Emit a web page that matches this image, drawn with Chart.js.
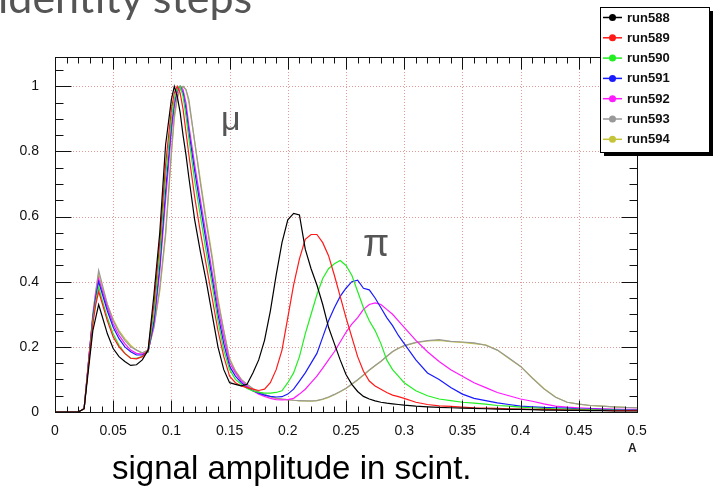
<!DOCTYPE html>
<html lang="en">
<head>
<meta charset="UTF-8" />
<title>identity steps</title>
<script src="https://cdn.jsdelivr.net/npm/chart.js"></script>
<style>
  html, body { margin: 0; padding: 0; background: #fff; overflow: hidden; }
  .wrap { position: relative; width: 723px; height: 495px; }
  .wrap canvas { position: absolute; left: 0; top: 0; }
  .note { position: absolute; line-height: 1; white-space: nowrap; font-family: "Liberation Sans", Arial, sans-serif; }
  #title { left: -2px; top: -25px; font-family: Lato, "Open Sans", sans-serif; font-size: 43px; color: #555; }
  #mu { left: 221px; top: 101px; font-size: 34px; color: #555; }
  #pi { left: 363px; top: 224px; font-size: 38px; color: #555; }
  #axA { left: 628px; top: 442px; font-size: 12px; font-weight: bold; color: #222; }
  #xlabel { left: 112px; top: 451px; font-size: 33px; color: #000; }
</style>
</head>
<body>
<div class="wrap">
  <canvas id="chartRuns" width="723" height="495"></canvas>
  <div class="note" id="title">identity steps</div>
  <div class="note" id="mu">μ</div>
  <div class="note" id="pi">π</div>
  <div class="note" id="axA">A</div>
  <div class="note" id="xlabel">signal amplitude in scint.</div>
</div>

<script>
  // amplitude bins (x) shared by every run
  var amp = [0, 0.01, 0.02, 0.025, 0.03, 0.0325, 0.035, 0.0375,
    0.04, 0.045, 0.05, 0.055, 0.06, 0.065, 0.07, 0.075, 0.08,
    0.085, 0.09, 0.095, 0.1,
    0.1025, 0.105, 0.1075, 0.11, 0.1125, 0.115,
    0.12, 0.125, 0.13, 0.135, 0.14, 0.145,
    0.15, 0.155, 0.16, 0.165, 0.17, 0.175, 0.18, 0.185, 0.19, 0.195, 0.2,
    0.205, 0.21, 0.215, 0.22, 0.225, 0.23, 0.235, 0.24, 0.245, 0.25,
    0.255, 0.26, 0.265, 0.27, 0.275, 0.28, 0.285, 0.29, 0.295, 0.3,
    0.31, 0.32, 0.33, 0.34, 0.35, 0.36, 0.37, 0.38, 0.39, 0.4,
    0.41, 0.42, 0.43, 0.44, 0.45, 0.46, 0.47, 0.48, 0.49, 0.5];

  // normalised counts per run
  var run588 = [0, 0, 0, 0.01, 0.17, 0.25, 0.29, 0.33,
    0.30, 0.24, 0.195, 0.17, 0.155, 0.143, 0.145, 0.16, 0.19,
    0.36, 0.55, 0.82, 0.96,
    1.0, 0.97, 0.92, 0.85, 0.79, 0.72,
    0.59, 0.49, 0.40, 0.30, 0.20, 0.13,
    0.09, 0.085, 0.08, 0.085, 0.12, 0.16, 0.22, 0.31, 0.42, 0.52, 0.59,
    0.61, 0.605, 0.50, 0.44, 0.39, 0.33, 0.26, 0.21, 0.16, 0.115,
    0.085, 0.063, 0.048, 0.04, 0.034, 0.03, 0.027, 0.025, 0.023, 0.021,
    0.018, 0.016, 0.014, 0.013, 0.012, 0.011, 0.01, 0.009, 0.008, 0.008,
    0.007, 0.006, 0.006, 0.005, 0.005, 0.004, 0.004, 0.003, 0.003, 0.003];
  var run589 = [0, 0, 0, 0.01, 0.19, 0.27, 0.33, 0.37,
    0.34, 0.28, 0.23, 0.20, 0.18, 0.165, 0.163, 0.17, 0.19,
    0.33, 0.52, 0.76, 0.93,
    0.98, 1.0, 0.98, 0.93, 0.86, 0.79,
    0.66, 0.55, 0.45, 0.35, 0.25, 0.17,
    0.11, 0.09, 0.08, 0.075, 0.07, 0.066, 0.07, 0.09, 0.13, 0.19, 0.29,
    0.39, 0.47, 0.53, 0.545, 0.545, 0.52, 0.48, 0.42, 0.355, 0.29,
    0.23, 0.17, 0.125, 0.095, 0.08, 0.07, 0.06, 0.052, 0.047, 0.042,
    0.03, 0.023, 0.019, 0.017, 0.015, 0.013, 0.012, 0.011, 0.01, 0.009,
    0.008, 0.008, 0.007, 0.006, 0.006, 0.005, 0.005, 0.004, 0.004, 0.004];
  var run590 = [0, 0, 0, 0.01, 0.19, 0.28, 0.34, 0.385,
    0.35, 0.29, 0.24, 0.205, 0.18, 0.165, 0.165, 0.17, 0.185,
    0.30, 0.48, 0.72, 0.90,
    0.96, 0.99, 1.0, 0.97, 0.91, 0.84,
    0.71, 0.60, 0.49, 0.39, 0.28, 0.19,
    0.13, 0.10, 0.085, 0.072, 0.065, 0.06, 0.058, 0.058, 0.06, 0.065, 0.09,
    0.12, 0.17, 0.24, 0.30, 0.36, 0.41, 0.44, 0.455, 0.465, 0.45,
    0.42, 0.37, 0.32, 0.28, 0.25, 0.21, 0.16, 0.13, 0.11, 0.09,
    0.065, 0.05, 0.04, 0.035, 0.03, 0.027, 0.024, 0.02, 0.018, 0.015,
    0.013, 0.011, 0.01, 0.009, 0.008, 0.007, 0.006, 0.006, 0.005, 0.005];
  var run591 = [0, 0, 0, 0.01, 0.2, 0.29, 0.35, 0.40,
    0.37, 0.31, 0.26, 0.225, 0.20, 0.185, 0.175, 0.175, 0.185,
    0.28, 0.45, 0.68, 0.88,
    0.95, 0.99, 1.0, 0.98, 0.93, 0.86,
    0.74, 0.63, 0.52, 0.41, 0.30, 0.21,
    0.14, 0.11, 0.09, 0.075, 0.065, 0.058, 0.052, 0.048, 0.046, 0.047, 0.055,
    0.07, 0.095, 0.12, 0.15, 0.18, 0.23, 0.28, 0.32, 0.355, 0.38,
    0.40, 0.405, 0.38, 0.375, 0.35, 0.32, 0.29, 0.265, 0.235, 0.21,
    0.16, 0.12, 0.10, 0.075, 0.055, 0.042, 0.035, 0.028, 0.023, 0.018,
    0.016, 0.014, 0.013, 0.012, 0.01, 0.009, 0.008, 0.007, 0.006, 0.006];
  var run592 = [0, 0, 0, 0.01, 0.2, 0.29, 0.36, 0.41,
    0.38, 0.32, 0.27, 0.235, 0.21, 0.19, 0.18, 0.178, 0.185,
    0.27, 0.43, 0.65, 0.86,
    0.94, 0.98, 1.0, 0.99, 0.95, 0.88,
    0.76, 0.65, 0.54, 0.43, 0.32, 0.23,
    0.15, 0.12, 0.095, 0.08, 0.065, 0.055, 0.048, 0.042, 0.038, 0.037, 0.038,
    0.042, 0.055, 0.07, 0.09, 0.11, 0.135, 0.16, 0.185, 0.215, 0.245,
    0.27, 0.29, 0.315, 0.33, 0.335, 0.33, 0.315, 0.30, 0.28, 0.26,
    0.22, 0.185, 0.155, 0.13, 0.11, 0.09, 0.075, 0.06, 0.05, 0.04,
    0.033, 0.025, 0.018, 0.015, 0.013, 0.011, 0.01, 0.009, 0.008, 0.008];
  var run593 = [0, 0, 0, 0.01, 0.2, 0.30, 0.37, 0.435,
    0.40, 0.33, 0.28, 0.245, 0.22, 0.20, 0.19, 0.182, 0.19,
    0.26, 0.38, 0.55, 0.80,
    0.91, 0.97, 0.99, 1.0, 0.99, 0.96,
    0.83, 0.70, 0.58, 0.47, 0.34, 0.25,
    0.16, 0.125, 0.10, 0.085, 0.072, 0.062, 0.054, 0.047, 0.043, 0.04, 0.038,
    0.036, 0.035, 0.034, 0.034, 0.035, 0.04, 0.046, 0.054, 0.063, 0.073,
    0.086, 0.099, 0.114, 0.129, 0.143, 0.156, 0.171, 0.186, 0.196, 0.204,
    0.214, 0.219, 0.222, 0.217, 0.215, 0.212, 0.205, 0.19, 0.166, 0.14,
    0.104, 0.071, 0.045, 0.03, 0.024, 0.02, 0.018, 0.016, 0.014, 0.013];
  var run594 = [0, 0, 0, 0.01, 0.19, 0.30, 0.37, 0.425,
    0.39, 0.33, 0.285, 0.25, 0.225, 0.205, 0.19, 0.18, 0.19,
    0.26, 0.37, 0.54, 0.79,
    0.90, 0.96, 0.99, 1.0, 0.99, 0.95,
    0.83, 0.71, 0.59, 0.48, 0.35, 0.25,
    0.165, 0.127, 0.10, 0.083, 0.071, 0.061, 0.053, 0.046, 0.042, 0.04, 0.037,
    0.036, 0.034, 0.034, 0.033, 0.035, 0.039, 0.045, 0.053, 0.062, 0.072,
    0.085, 0.098, 0.113, 0.128, 0.142, 0.155, 0.17, 0.185, 0.195, 0.203,
    0.213, 0.218, 0.22, 0.216, 0.214, 0.21, 0.206, 0.19, 0.164, 0.14,
    0.105, 0.072, 0.046, 0.03, 0.024, 0.02, 0.018, 0.016, 0.014, 0.013];

  var runNames = ['run588', 'run589', 'run590', 'run591', 'run592', 'run593', 'run594'];
  var xTicks = [0, 0.05, 0.1, 0.15, 0.2, 0.25, 0.3, 0.35, 0.4, 0.45, 0.5];
  var yTicks = [0, 0.2, 0.4, 0.6, 0.8, 1];

  var runs = [run588, run589, run590, run591, run592, run593, run594];
  var runColors = ['#000000', '#ff1a1a', '#22ee22', '#1a1aff', '#ff1aff', '#999999', '#c4c43a'];
  var LABEL_FONT = { family: 'Liberation Sans, Arial, sans-serif', size: 14 };

  var datasets = runs.map(function (r, i) {
    return {
      label: runNames[i],
      data: amp.map(function (a, k) { return { x: a, y: r[k] }; }),
      borderColor: runColors[i],
      backgroundColor: runColors[i],
      borderWidth: 1.2,
      pointRadius: 0,
      showLine: true,
      fill: false,
      tension: 0
    };
  });

  // ROOT-like frame: dotted grid, box, ticks on all four sides, shadowed legend
  var rootStyle = {
    id: 'rootStyle',
    beforeDatasetsDraw: function (chart) {
      var ctx = chart.ctx, a = chart.chartArea;
      var sx = chart.scales.x, sy = chart.scales.y;
      ctx.save();
      ctx.strokeStyle = '#e39a9a';
      ctx.lineWidth = 1;
      ctx.setLineDash([1, 2]);
      xTicks.forEach(function (v) {
        if (v <= 0 || v >= 0.5) return;
        var px = Math.round(sx.getPixelForValue(v)) + 0.5;
        ctx.beginPath(); ctx.moveTo(px, a.top); ctx.lineTo(px, a.bottom); ctx.stroke();
      });
      yTicks.forEach(function (v) {
        if (v <= 0) return;
        var py = Math.round(sy.getPixelForValue(v)) + 0.5;
        ctx.beginPath(); ctx.moveTo(a.left, py); ctx.lineTo(a.right, py); ctx.stroke();
      });
      ctx.restore();
    },
    afterDatasetsDraw: function (chart) {
      var ctx = chart.ctx, a = chart.chartArea;
      var sx = chart.scales.x, sy = chart.scales.y;
      var L = Math.round(a.left) + 0.5, R = Math.round(a.right) + 0.5;
      var T = Math.round(a.top) + 0.5, B = Math.round(a.bottom) + 0.5;
      ctx.save();
      ctx.strokeStyle = '#111';
      ctx.lineWidth = 1;
      ctx.strokeRect(L, T, R - L, B - T);
      ctx.beginPath();
      var v, px, len;
      for (v = 0; v <= 0.5001; v += 0.01) {
        px = Math.round(sx.getPixelForValue(v)) + 0.5;
        len = (Math.round(v * 100) % 5 === 0) ? 12 : 6;
        ctx.moveTo(px, B); ctx.lineTo(px, B - len);
        ctx.moveTo(px, T); ctx.lineTo(px, T + len);
      }
      for (v = 0; v <= 1.0801; v += 0.05) {
        px = Math.round(sy.getPixelForValue(v)) + 0.5;
        len = (Math.round(v * 100) % 20 === 0) ? 16 : 8;
        ctx.moveTo(L, px); ctx.lineTo(L + len, px);
        ctx.moveTo(R, px); ctx.lineTo(R - len, px);
      }
      ctx.stroke();
      ctx.restore();
    },
    afterDraw: function (chart) {
      var ctx = chart.ctx;
      var bx = 600, by = 7, bw = 109, bh = 145;
      ctx.save();
      ctx.fillStyle = '#000';
      ctx.fillRect(bx + 4, by + 4, bw, bh);
      ctx.fillStyle = '#fff';
      ctx.fillRect(bx, by, bw, bh);
      ctx.strokeStyle = '#000';
      ctx.lineWidth = 1;
      ctx.strokeRect(bx + 0.5, by + 0.5, bw, bh);
      ctx.font = 'bold 13px "Liberation Sans", Arial, sans-serif';
      ctx.textBaseline = 'middle';
      chart.data.datasets.forEach(function (ds, i) {
        var cy = by + 10.5 + i * 20.3;
        ctx.strokeStyle = ds.borderColor;
        ctx.lineWidth = 1.5;
        ctx.beginPath(); ctx.moveTo(603, cy); ctx.lineTo(622, cy); ctx.stroke();
        ctx.fillStyle = ds.borderColor;
        ctx.beginPath(); ctx.arc(612.5, cy, 3.5, 0, Math.PI * 2); ctx.fill();
        ctx.fillStyle = '#111';
        ctx.fillText(ds.label, 627, cy + 0.5);
      });
      ctx.restore();
    }
  };

  var ctxRuns = document.getElementById('chartRuns').getContext('2d');
  var chartRuns = new Chart(ctxRuns, {
    type: 'scatter',
    data: { datasets: datasets },
    options: {
      responsive: false,
      animation: false,
      events: [],
      layout: { padding: { left: 0, top: 57, right: 86, bottom: 0 } },
      plugins: { legend: { display: false }, tooltip: { enabled: false } },
      scales: {
        x: {
          type: 'linear', min: 0, max: 0.5,
          afterBuildTicks: function (s) { s.ticks = xTicks.map(function (v) { return { value: v }; }); },
          afterFit: function (s) { s.height = 83; },
          grid: { display: false },
          border: { display: false },
          ticks: {
            autoSkip: false, maxRotation: 0, padding: 3, color: '#111', font: LABEL_FONT,
            callback: function (v) { return String(+v.toFixed(2)); }
          }
        },
        y: {
          type: 'linear', min: 0, max: 1.09,
          afterBuildTicks: function (s) { s.ticks = yTicks.map(function (v) { return { value: v }; }); },
          afterFit: function (s) { s.width = 55; },
          grid: { display: false },
          border: { display: false },
          ticks: {
            padding: 8, color: '#111', font: LABEL_FONT,
            callback: function (v) { return String(+v.toFixed(1)); }
          }
        }
      }
    },
    plugins: [rootStyle]
  });
</script>
</body>
</html>
